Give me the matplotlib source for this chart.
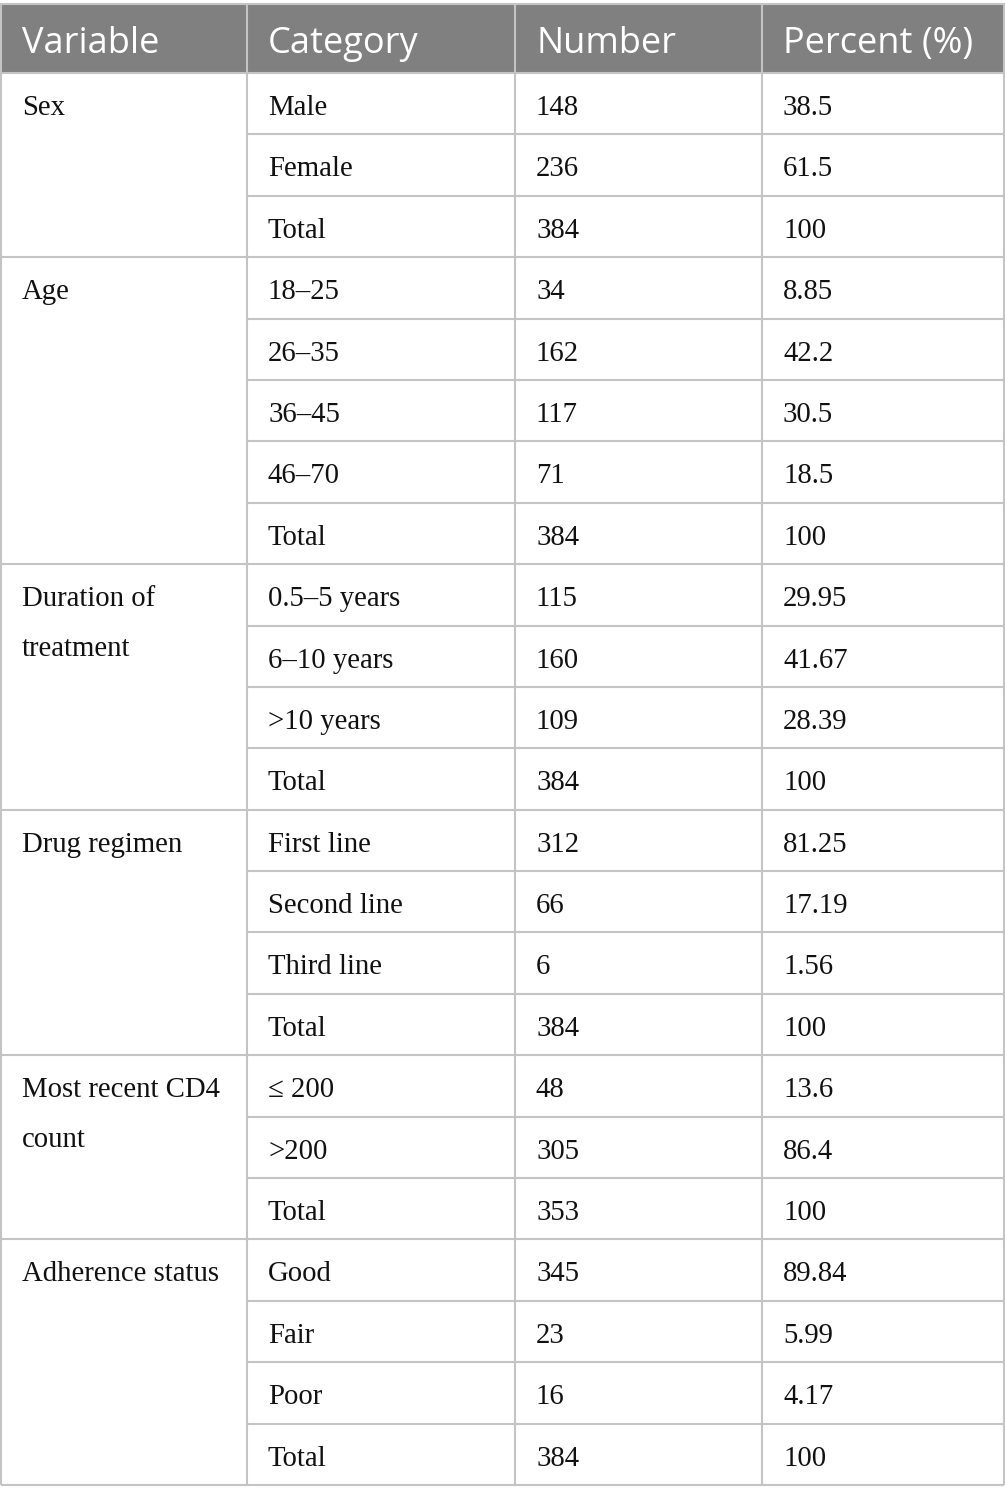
import matplotlib
matplotlib.use("Agg")
import matplotlib.pyplot as plt
from matplotlib.patches import Rectangle

# table content
headers = ["Variable", "Category", "Number", "Percent (%)"]
variables = ["Sex", "Age", "Duration of\ntreatment", "Drug regimen",
             "Most recent CD4\ncount", "Adherence status"]
group_sizes = [3, 5, 4, 4, 3, 4]
categories = ["Male", "Female", "Total",
              "18\u201325", "26\u201335", "36\u201345", "46\u201370", "Total",
              "0.5\u20135 years", "6\u201310 years", ">10 years", "Total",
              "First line", "Second line", "Third line", "Total",
              "\u2264 200", ">200", "Total",
              "Good", "Fair", "Poor", "Total"]
numbers = ["148", "236", "384",
           "34", "162", "117", "71", "384",
           "115", "160", "109", "384",
           "312", "66", "6", "384",
           "48", "305", "353",
           "345", "23", "16", "384"]
percents = ["38.5", "61.5", "100",
            "8.85", "42.2", "30.5", "18.5", "100",
            "29.95", "41.67", "28.39", "100",
            "81.25", "17.19", "1.56", "100",
            "13.6", "86.4", "100",
            "89.84", "5.99", "4.17", "100"]

W, H = 1005, 1503
col_x = [1, 247, 515, 762, 1004]
top = 4
head_bot = 73
bottom = 1485
n_rows = len(categories)
row_h = (bottom - head_bot) / n_rows
pad = 21
line_col = "#c4c4c4"
lw = 1.5

fig = plt.figure(figsize=(W / 100, H / 100), dpi=100)
ax = fig.add_axes([0, 0, 1, 1])
ax.set_xlim(0, W)
ax.set_ylim(H, 0)
ax.axis("off")

# header
ax.add_patch(Rectangle((col_x[0], top), col_x[-1] - col_x[0], head_bot - top,
                       facecolor="#808080", edgecolor="none"))
for i, h in enumerate(headers):
    ax.text(col_x[i] + pad, 53, h, color="white", fontsize=26,
            family="Open Sans", va="baseline", ha="left")

body_font = dict(fontsize=20.7, family=["Liberation Serif", "DejaVu Serif"],
                 color="#111111", va="baseline", ha="left")

# body cells
for r in range(n_rows):
    y0 = head_bot + r * row_h
    ax.text(col_x[1] + pad, y0 + 42, categories[r], **body_font)
    ax.text(col_x[2] + pad, y0 + 42, numbers[r], **body_font)
    ax.text(col_x[3] + pad, y0 + 42, percents[r], **body_font)
    # row separators in right three columns
    ax.plot([col_x[1], col_x[-1]], [y0 + row_h, y0 + row_h],
            color=line_col, lw=lw, solid_capstyle="butt")

start = 0
for var, n in zip(variables, group_sizes):
    y0 = head_bot + start * row_h
    for k, line in enumerate(var.split("\n")):
        ax.text(col_x[0] + pad, y0 + 42 + k * 50, line, **body_font)
    start += n
    yb = head_bot + start * row_h
    ax.plot([col_x[0], col_x[1]], [yb, yb], color=line_col, lw=lw,
            solid_capstyle="butt")

# vertical lines and outer frame
for x in col_x:
    ax.plot([x, x], [top, bottom], color=line_col, lw=lw, solid_capstyle="butt")
ax.plot([col_x[0], col_x[-1]], [top, top], color=line_col, lw=lw)
ax.plot([col_x[0], col_x[-1]], [head_bot, head_bot], color=line_col, lw=lw)

fig.savefig("out.png", dpi=100, facecolor="white")
